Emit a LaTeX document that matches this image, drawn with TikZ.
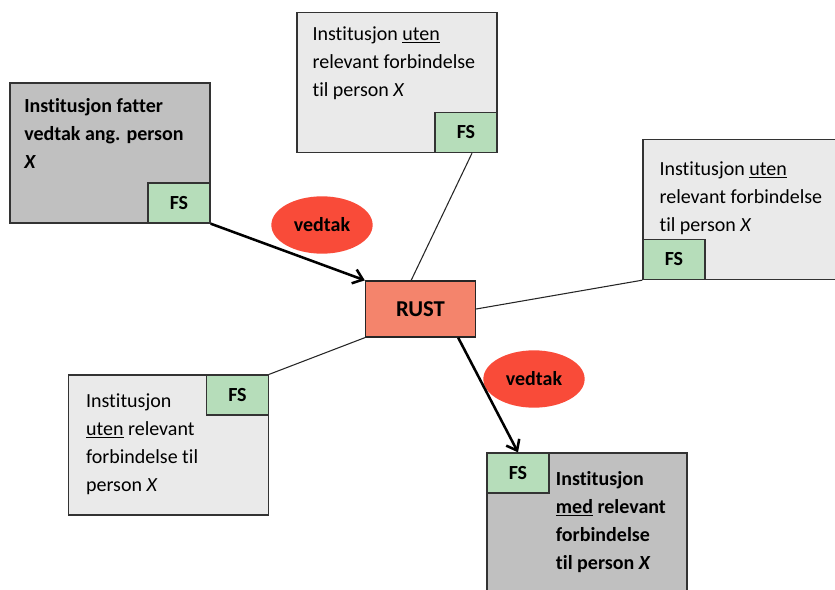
\documentclass[tikz,border=0pt]{standalone}
\usepackage{fontspec}
\setmainfont{Carlito}[Ligatures=NoCommon]
\usetikzlibrary{positioning,arrows.meta,shapes.geometric,calc}
\definecolor{mork}{RGB}{192,192,192}
\definecolor{lys}{RGB}{234,234,234}
\definecolor{fsgronn}{RGB}{182,221,186}
\definecolor{rustfarge}{RGB}{244,132,108}
\definecolor{vedtakrod}{RGB}{249,75,57}

\begin{document}
\begin{tikzpicture}[x=0.75pt,y=-0.75pt]
   \useasboundingbox (0,0) rectangle (835,589);
   \fontsize{15}{21}\selectfont
   \tikzstyle{boks}=[rectangle, draw=black!80, line width=1pt, minimum width=150pt, minimum height=105pt, inner sep=0pt]
   \tikzstyle{fs}=[rectangle, draw=black!80, line width=1pt, fill=fsgronn, minimum width=46.5pt, minimum height=30pt, inner sep=0pt, font=\bfseries]
   \tikzstyle{tekst}=[anchor=north west, inner sep=0pt, align=left]
   \tikzstyle{linje}=[draw=black!85, line width=0.8pt]
   \tikzstyle{pil}=[-{Straight Barb[length=7pt,width=11pt]}, line width=1.9pt]
   \tikzstyle{vedtak}=[ellipse, fill=vedtakrod, minimum width=76pt, minimum height=43pt, inner sep=0pt, font=\bfseries]
   % institusjonene
   \node[boks,fill=mork] (fatter) at (110,153) {};
   \node[fs,anchor=south east] (fs1) at (fatter.south east) {FS};
   \node[tekst] (t1) at ([xshift=11pt,yshift=-12pt]fatter.north west) {\textbf{Institusjon fatter}\\ \textbf{vedtak ang. person}\\ \textbf{\textit{X}}};
   \node[boks,fill=lys] (topp) at (397,82.5) {};
   \node[fs,anchor=south east] (fs2) at (topp.south east) {FS};
   \node[tekst] (t2) at ([xshift=12pt,yshift=-11pt]topp.north west) {Institusjon \underline{uten}\\ relevant forbindelse\\ til person \textit{X}};
   \node[boks,fill=lys] (hoyre) at (743,209.5) {};
   \node[fs,anchor=south west] (fs3) at (hoyre.south west) {FS};
   \node[tekst] (t3) at ([xshift=12.75pt,yshift=-17pt]hoyre.north west) {Institusjon \underline{uten}\\ relevant forbindelse\\ til person \textit{X}};
   \node[boks,fill=lys] (venstre) at (168.5,445) {};
   \node[fs,anchor=north east] (fs4) at (venstre.north east) {FS};
   \node[tekst] (t4) at ([xshift=13.5pt,yshift=-14pt]venstre.north west) {Institusjon\\ \underline{uten} relevant\\ forbindelse til\\ person \textit{X}};
   \node[boks,fill=mork] (med) at (587,523) {};
   \node[fs,anchor=north west] (fs5) at (med.north west) {FS};
   \node[tekst] (t5) at ([xshift=52pt,yshift=-14pt]med.north west) {\textbf{Institusjon}\\ \textbf{\underline{med} relevant}\\ \textbf{forbindelse}\\ \textbf{til person \textit{X}}};
   % registeret
   \node[rectangle, draw=black!85, line width=1pt, fill=rustfarge, minimum width=82.5pt, minimum height=42pt, font=\bfseries\fontsize{17}{20}\selectfont] (rust) at (420.5,309) {RUST};
   \node[vedtak] (v1) at (322,225) {vedtak};
   \node[vedtak] (v2) at (534,379) {vedtak};
   \draw[pil] (fs1.south east) -- (rust.north west);
   \draw[pil] ([xshift=-13.5pt]rust.south east) -- (fs5.north);
   \draw[linje] ([xshift=4.5pt]fs2.south) -- ([xshift=-7pt]rust.north);
   \draw[linje] (fs3.south west) -- (rust.east);
   \draw[linje] (fs4.north east) -- (rust.south west);
\end{tikzpicture}
\end{document}
